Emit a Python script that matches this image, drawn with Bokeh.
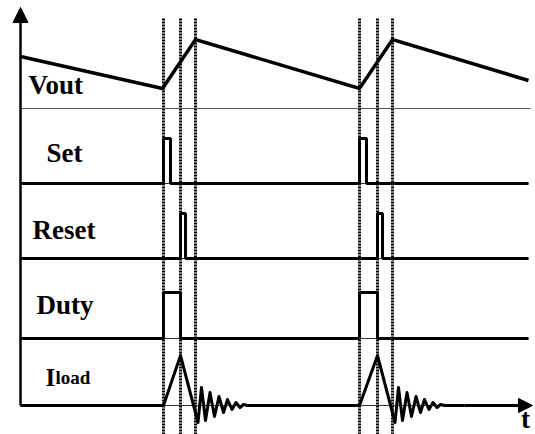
from bokeh.plotting import figure
from bokeh.models import Range1d, Arrow, NormalHead, ColumnDataSource
from bokeh.core.properties import value
from bokeh.embed import file_html
from bokeh.resources import INLINE

# ---------------- data (time units, signal levels above each trace's baseline)
t_end = 508
vout_t = [0, 142, 175, 339, 372, 508]
vout_v = [52, 20, 69, 20, 69, 28]

set_on = [143, 339]
set_off = [150, 346]
set_high = 45

reset_on = [160, 357]
reset_off = [165, 362]
reset_high = 45

duty_on = [143, 339]
duty_off = [160, 357]
duty_high = 46

iload_start = [143, 339]
iload_peak_t = [160, 357]
iload_end = [175, 372]
iload_peak = 50
ring_dt = [2.5, 6, 10, 14.5, 19, 23.5, 28, 32, 36.5, 40.5, 44.5, 48, 52]
ring_v = [-17, 18, -15, 13, -11, 9, -7, 6, -4, 3, -2, 1, 0]

markers = [143, 160, 175, 339, 357, 372]

labels = ["Vout", "Set", "Reset", "Duty"]

# ---------------- layout (positions of trace baselines, in plot units)
W, H = 535, 434
base_vout, base_set, base_reset, base_duty, base_iload = 326, 251, 176, 96, 29

p = figure(width=W, height=H, output_backend="svg", toolbar_location=None,
           x_range=Range1d(-20, W - 20), y_range=Range1d(0, H),
           x_axis_type=None, y_axis_type=None, min_border=0,
           min_border_left=0, min_border_right=0, min_border_top=0, min_border_bottom=0)
p.grid.visible = False
p.outline_line_color = None
p.background_fill_color = "white"
p.border_fill_color = "white"


def pulses(on, off, high):
    xs, ys = [0], [0]
    for a, b in zip(on, off):
        xs += [a, a, b, b]
        ys += [0, high, high, 0]
    xs.append(t_end)
    ys.append(0)
    return xs, ys


# dotted marker lines
for m in markers:
    p.line([m, m], [0, H - 18], line_color="black", line_width=3, line_dash="2 1")

# Vout
p.line([0, t_end + 2], [base_vout, base_vout], line_color="#555555", line_width=1)
p.line(vout_t, [base_vout + v for v in vout_v], line_color="black", line_width=3.5,
       line_join="miter")

# thin baselines under pulses
for b in (base_set, base_reset, base_duty):
    p.line([0, t_end], [b, b], line_color="#333333", line_width=1)

for (on, off, high, b) in ((set_on, set_off, set_high, base_set),
                           (reset_on, reset_off, reset_high, base_reset),
                           (duty_on, duty_off, duty_high, base_duty)):
    xs, ys = pulses(on, off, high)
    p.line(xs, [b + y for y in ys], line_color="black", line_width=3)

# Iload
p.line([0, t_end], [base_iload, base_iload], line_color="#333333", line_width=1)
ix, iy = [0], [0]
for s, pk, e in zip(iload_start, iload_peak_t, iload_end):
    ix += [s, pk]
    iy += [0, iload_peak]
    ix += [e + d for d in ring_dt]
    iy += ring_v
ix.append(iload_end[-1] + ring_dt[-1] + 20)
iy.append(0)
p.line(ix, [base_iload + y for y in iy], line_color="black", line_width=3,
       line_join="round")

# axes arrows
p.add_layout(Arrow(end=NormalHead(size=14, fill_color="black", line_color="black"),
                   x_start=ix[-1], y_start=base_iload, x_end=512, y_end=base_iload,
                   line_color="black", line_width=3))
p.add_layout(Arrow(end=NormalHead(size=15, fill_color="black", line_color="black"),
                   x_start=0, y_start=base_iload, x_end=0, y_end=H - 7,
                   line_color="black", line_width=2.5))

# labels
font = value("Liberation Serif")
lab_src = ColumnDataSource(dict(x=[8, 26, 12, 16], y=[350, 282, 205, 130], text=labels))
p.text(x="x", y="y", text="text", source=lab_src, text_font=font,
       text_font_style="bold", text_font_size="27px", text_baseline="alphabetic",
       text_color="black")
p.text(x=[25], y=[57], text=["I"], text_font=font, text_font_style="bold",
       text_font_size="25px", text_baseline="alphabetic", text_color="black")
p.text(x=[35], y=[57], text=["load"], text_font=font, text_font_style="bold",
       text_font_size="19px", text_baseline="alphabetic", text_color="black")
p.text(x=[505], y=[16], text=["t"], text_font=font, text_font_style="bold",
       text_font_size="27px", text_baseline="alphabetic", text_align="center",
       text_color="black")

open("out.html", "w").write(file_html(p, INLINE))
